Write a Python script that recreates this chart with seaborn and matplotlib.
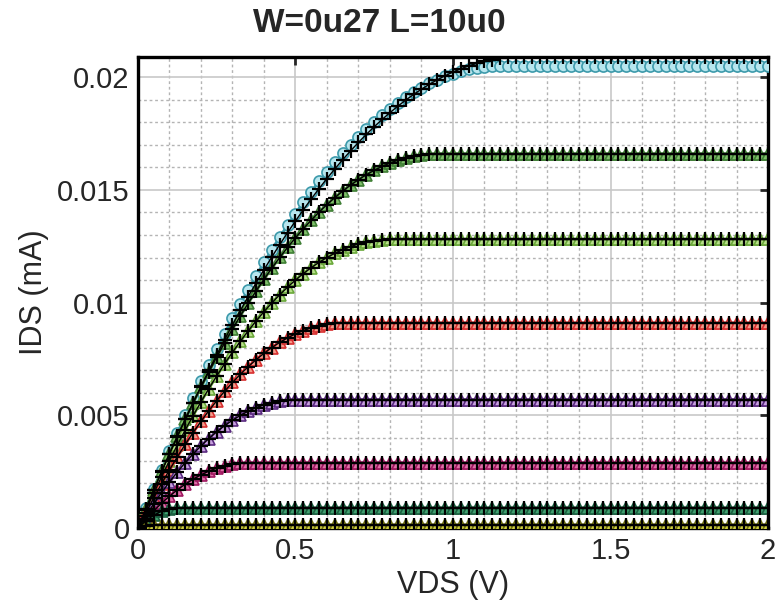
import numpy as np
import pandas as pd
import matplotlib
matplotlib.use("Agg")
import matplotlib.pyplot as plt
import seaborn as sns
from matplotlib.ticker import MultipleLocator

# VDS sweep (V), 0 .. 2 V in 25 mV steps
VDS = np.linspace(0, 2, 81)

# measured IDS curves, one per gate voltage (rising part, then saturation)
ids_1 = [0, 0.000882, 0.001744, 0.002587, 0.003410, 0.004214, 0.004999, 0.005764,
         0.006510, 0.007237, 0.007944, 0.008632, 0.009301, 0.009950, 0.010579, 0.011190,
         0.011781, 0.012352, 0.012905, 0.013438, 0.013951, 0.014445, 0.014920, 0.015375,
         0.015811, 0.016228, 0.016625, 0.017003, 0.017361, 0.017700, 0.018020, 0.018320,
         0.018601, 0.018863, 0.019105, 0.019328, 0.019531, 0.019715, 0.019880, 0.020025,
         0.020151, 0.020258, 0.020345, 0.020413, 0.020461, 0.020490] + [0.0205] * 35
ids_2 = [0, 0.000862, 0.001701, 0.002518, 0.003311, 0.004081, 0.004828, 0.005552,
         0.006254, 0.006932, 0.007587, 0.008220, 0.008829, 0.009415, 0.009978, 0.010519,
         0.011036, 0.011530, 0.012002, 0.012450, 0.012875, 0.013278, 0.013657, 0.014013,
         0.014347, 0.014657, 0.014945, 0.015209, 0.015450, 0.015669, 0.015864, 0.016037,
         0.016186, 0.016313, 0.016416, 0.016497, 0.016554, 0.016588] + [0.0166] * 43
ids_3 = [0, 0.000788, 0.001550, 0.002288, 0.003000, 0.003688, 0.004350, 0.004988,
         0.005600, 0.006188, 0.006750, 0.007288, 0.007800, 0.008288, 0.008750, 0.009188,
         0.009600, 0.009988, 0.010350, 0.010688, 0.011000, 0.011288, 0.011550, 0.011788,
         0.012000, 0.012188, 0.012350, 0.012488, 0.012600, 0.012688, 0.012750,
         0.012788] + [0.0128] * 49
ids_4 = [0, 0.000687, 0.001346, 0.001979, 0.002585, 0.003163, 0.003715, 0.004240,
         0.004738, 0.005210, 0.005654, 0.006071, 0.006462, 0.006825, 0.007162, 0.007471,
         0.007754, 0.008010, 0.008238, 0.008440, 0.008615, 0.008763, 0.008885, 0.008979,
         0.009046, 0.009087] + [0.0091] * 55
ids_5 = [0, 0.000556, 0.001083, 0.001582, 0.002052, 0.002494, 0.002907, 0.003292,
         0.003648, 0.003976, 0.004275, 0.004546, 0.004788, 0.005002, 0.005187, 0.005344,
         0.005472, 0.005572, 0.005643, 0.005686] + [0.0057] * 61
ids_6 = [0, 0.000399, 0.000769, 0.001110, 0.001420, 0.001702, 0.001953, 0.002175,
         0.002367, 0.002530, 0.002663, 0.002767, 0.002841, 0.002885] + [0.0029] * 67
ids_7 = [0, 0.000324, 0.000576, 0.000756, 0.000864] + [0.0009] * 76
ids_8 = [0, 0.000113] + [0.00015] * 79

# model curve for the top gate voltage (the others sit on the measured data)
model_1 = [0, 0.000848, 0.001678, 0.002491, 0.003286, 0.004063, 0.004823, 0.005566,
           0.006291, 0.006998, 0.007688, 0.008360, 0.009015, 0.009652, 0.010272, 0.010874,
           0.011458, 0.012025, 0.012575, 0.013106, 0.013621, 0.014117, 0.014597, 0.015058,
           0.015502, 0.015929, 0.016338, 0.016729, 0.017103, 0.017459, 0.017798, 0.018119,
           0.018423, 0.018709, 0.018978, 0.019229, 0.019462, 0.019678, 0.019876, 0.020057,
           0.020220, 0.020366, 0.020494, 0.020605, 0.020698, 0.020773, 0.020831, 0.020872,
           0.020894] + [0.0209] * 32

measured = [ids_1, ids_2, ids_3, ids_4, ids_5, ids_6, ids_7, ids_8]
models = [model_1, ids_2, ids_3, ids_4, ids_5, ids_6, ids_7, ids_8]

line_colors = ["#3d9aab", "#3f7f35", "#6aa83a", "#d83030", "#5a2a80", "#a01860", "#1a6040", "#707010"]
face_colors = ["#b8e6ee", "#7fbf6a", "#b8e08a", "#f59a8a", "#c8a0e0", "#e070a8", "#40a070", "#d0d040"]
markers = ["o", "^", "^", "^", "^", "^", "^", "^"]

rows = []
for i, (m, s) in enumerate(zip(measured, models)):
    for v, a, b in zip(VDS, m, s):
        rows.append({"VDS": v, "meas": a, "model": b, "curve": i})
df = pd.DataFrame(rows)

sns.set_style("white")
plt.rcParams["font.family"] = ["Liberation Sans", "DejaVu Sans"]

fig = plt.figure(figsize=(7.75, 6.1), dpi=100)
ax = fig.add_axes([0.178, 0.134, 0.813, 0.773])

for i in range(len(measured)):
    d = df[df["curve"] == i]
    sns.lineplot(data=d, x="VDS", y="meas", ax=ax, color=line_colors[i], lw=2.0,
                 marker=markers[i], markersize=8, markerfacecolor=face_colors[i],
                 markeredgecolor=line_colors[i], markeredgewidth=1.2, zorder=3)
for i in range(len(models)):
    d = df[df["curve"] == i]
    sns.lineplot(data=d, x="VDS", y="model", ax=ax, color="black", lw=1.0,
                 marker="+", markersize=10, markeredgecolor="black",
                 markeredgewidth=1.6, zorder=4)

ax.set_xlim(0, 2)
ax.set_ylim(0, 0.0209)
ax.set_xticks([0, 0.5, 1, 1.5, 2], labels=["0", "0.5", "1", "1.5", "2"])
ax.set_yticks([0, 0.005, 0.01, 0.015, 0.02], labels=["0", "0.005", "0.01", "0.015", "0.02"])
ax.xaxis.set_minor_locator(MultipleLocator(0.1))
ax.yaxis.set_minor_locator(MultipleLocator(0.001))

ax.grid(True, which="major", color="#c8c8c8", lw=1.2, ls="-", zorder=0)
ax.grid(True, which="minor", color="#b4b4b4", lw=1.0, ls=(0, (2, 2)), zorder=0)
ax.set_axisbelow(True)

for sp in ax.spines.values():
    sp.set_linewidth(2.4)
    sp.set_color("black")
ax.tick_params(which="major", direction="in", length=6, width=2, labelsize=21,
               top=True, right=True, pad=6)
ax.tick_params(which="minor", length=0)

ax.set_xlabel("VDS (V)", fontsize=22, labelpad=4)
ax.set_ylabel("IDS (mA)", fontsize=22, labelpad=6)
fig.text(0.49, 0.962, "W=0u27 L=10u0", ha="center", va="center",
         fontsize=24, fontweight="bold")

fig.savefig("out.png", dpi=100)
